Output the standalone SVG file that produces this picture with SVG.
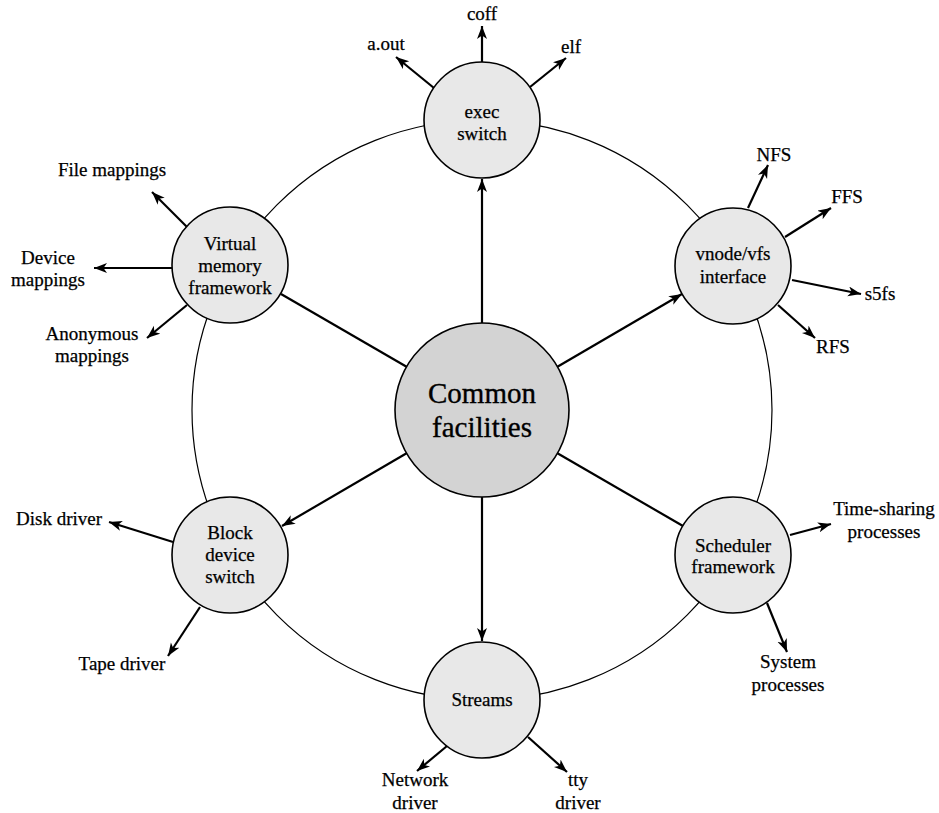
<svg xmlns="http://www.w3.org/2000/svg" width="939" height="813" viewBox="0 0 939 813">
<defs>
<marker id="ah" markerUnits="userSpaceOnUse" markerWidth="16" markerHeight="12" refX="13" refY="5" orient="auto">
<path d="M0,0 L13,5 L0,10 L3.5,5 z" fill="#000"/>
</marker>
<style>
.bg{fill:#fff}
.ring{fill:none;stroke:#000;stroke-width:1.2}
.node{fill:#e8e8e8;stroke:#000;stroke-width:1.6}
.core{fill:#d3d3d3;stroke:#000;stroke-width:1.6}
.c{stroke:#000;stroke-width:2.2;fill:none}
.a{marker-end:url(#ah)}
text{font-family:"Liberation Serif","Times New Roman",serif;font-size:19px;fill:#000;stroke:#000;stroke-width:0.25;text-anchor:middle}
.big{font-size:29px;stroke-width:0.35}
</style>
</defs>
<rect class="bg" x="0" y="0" width="939" height="813"/>
<circle class="ring" cx="482" cy="410" r="290"/>
<g id="connectors">
<line class="c a" x1="482" y1="323" x2="482" y2="179"/>
<line class="c a" x1="557" y1="367" x2="682" y2="294"/>
<line class="c" x1="557" y1="453" x2="683" y2="526"/>
<line class="c a" x1="482" y1="497" x2="482" y2="641"/>
<line class="c a" x1="407" y1="453" x2="282" y2="526"/>
<line class="c" x1="407" y1="367" x2="281" y2="294"/>
<line class="c a" x1="434" y1="88" x2="396" y2="57"/>
<line class="c a" x1="482" y1="62" x2="482" y2="26"/>
<line class="c a" x1="530" y1="87" x2="566" y2="58"/>
<line class="c a" x1="187" y1="227" x2="152" y2="192"/>
<line class="c a" x1="172" y1="268" x2="94" y2="268"/>
<line class="c a" x1="187" y1="305" x2="147" y2="338"/>
<line class="c a" x1="748" y1="208" x2="768" y2="165"/>
<line class="c a" x1="785" y1="237" x2="831" y2="208"/>
<line class="c a" x1="792" y1="280" x2="861" y2="294"/>
<line class="c a" x1="778" y1="305" x2="815" y2="338"/>
<line class="c a" x1="790" y1="535" x2="831" y2="524"/>
<line class="c a" x1="767" y1="603" x2="787" y2="652"/>
<line class="c a" x1="173" y1="542" x2="109" y2="522"/>
<line class="c a" x1="200" y1="607" x2="168" y2="656"/>
<line class="c a" x1="447" y1="746" x2="417" y2="771"/>
<line class="c a" x1="528" y1="737" x2="567" y2="772"/>
</g>
<g id="common">
<circle class="core" cx="482" cy="410" r="87"/>
<text class="big" x="482" y="403">Common</text>
<text class="big" x="482" y="437">facilities</text>
</g>
<g id="exec">
<circle class="node" cx="482" cy="120" r="58"/>
<text x="482" y="118">exec</text>
<text x="482" y="140">switch</text>
</g>
<g id="vnode">
<circle class="node" cx="733" cy="266" r="58"/>
<text x="733" y="260">vnode/vfs</text>
<text x="733" y="283">interface</text>
</g>
<g id="scheduler">
<circle class="node" cx="733" cy="555" r="58"/>
<text x="733" y="552">Scheduler</text>
<text x="733" y="573">framework</text>
</g>
<g id="streams">
<circle class="node" cx="482" cy="700" r="58"/>
<text x="482" y="706">Streams</text>
</g>
<g id="block">
<circle class="node" cx="230" cy="555" r="58"/>
<text x="230" y="539">Block</text>
<text x="230" y="561">device</text>
<text x="230" y="583">switch</text>
</g>
<g id="vm">
<circle class="node" cx="230" cy="265" r="58"/>
<text x="230" y="250">Virtual</text>
<text x="230" y="272">memory</text>
<text x="230" y="294">framework</text>
</g>
<g id="labels">
<text x="386" y="50">a.out</text>
<text x="482" y="20">coff</text>
<text x="571" y="53">elf</text>
<text x="112" y="176">File mappings</text>
<text x="48" y="264">Device</text>
<text x="48" y="286">mappings</text>
<text x="92" y="340">Anonymous</text>
<text x="92" y="362">mappings</text>
<text x="774" y="161">NFS</text>
<text x="847" y="203">FFS</text>
<text x="880" y="300">s5fs</text>
<text x="833" y="353">RFS</text>
<text x="884" y="515">Time-sharing</text>
<text x="884" y="538">processes</text>
<text x="788" y="668">System</text>
<text x="788" y="691">processes</text>
<text x="59" y="525">Disk driver</text>
<text x="122" y="670">Tape driver</text>
<text x="415" y="786">Network</text>
<text x="415" y="809">driver</text>
<text x="578" y="786">tty</text>
<text x="578" y="809">driver</text>
</g>
</svg>
